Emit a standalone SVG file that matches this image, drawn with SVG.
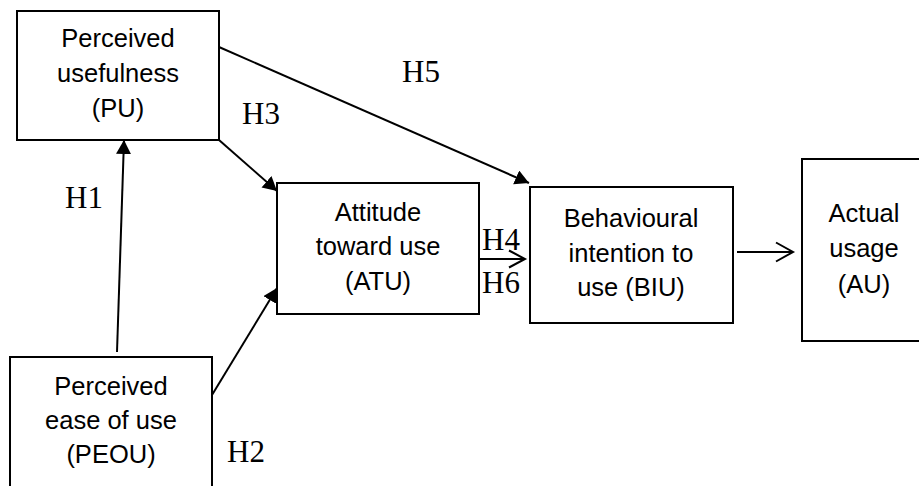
<svg xmlns="http://www.w3.org/2000/svg" width="919" height="486" viewBox="0 0 919 486">
  <style>
    .box { fill: #ffffff; stroke: #000000; stroke-width: 2; }
    .label { font-family: "Liberation Sans", Arial, sans-serif; font-size: 25.5px; fill: #000000; text-anchor: middle; }
    .hyp { font-family: "Liberation Serif", "Times New Roman", serif; font-size: 31px; fill: #000000; }
    .link { stroke: #000000; stroke-width: 2; fill: none; }
  </style>
  <defs>
    <marker id="solid" markerUnits="userSpaceOnUse" markerWidth="16" markerHeight="16" refX="14" refY="7.5" orient="auto">
      <path d="M0,0 L14,7.5 L0,15 Z" fill="#000000"/>
    </marker>
  </defs>
  <rect width="919" height="486" fill="#ffffff"/>

  <g id="node-pu">
    <rect class="box" x="17" y="11" width="202" height="129"/>
    <text class="label" x="118" y="47">Perceived</text>
    <text class="label" x="118" y="82">usefulness</text>
    <text class="label" x="118" y="117">(PU)</text>
  </g>

  <g id="node-peou">
    <rect class="box" x="10" y="357" width="202" height="140"/>
    <text class="label" x="111" y="395">Perceived</text>
    <text class="label" x="111" y="429">ease of use</text>
    <text class="label" x="111" y="463">(PEOU)</text>
  </g>

  <g id="node-atu">
    <rect class="box" x="277" y="183" width="202" height="131"/>
    <text class="label" x="378" y="221">Attitude</text>
    <text class="label" x="378" y="255">toward use</text>
    <text class="label" x="378" y="290">(ATU)</text>
  </g>

  <g id="node-biu">
    <rect class="box" x="530" y="187" width="203" height="136"/>
    <text class="label" x="631" y="227">Behavioural</text>
    <text class="label" x="631" y="262">intention to</text>
    <text class="label" x="631" y="296">use (BIU)</text>
  </g>

  <g id="node-au">
    <rect class="box" x="802" y="159" width="130" height="182"/>
    <text class="label" x="864" y="222">Actual</text>
    <text class="label" x="864" y="257">usage</text>
    <text class="label" x="864" y="293">(AU)</text>
  </g>

  <g id="connectors">
    <line class="link" x1="117" y1="352" x2="124" y2="140" marker-end="url(#solid)"/>
    <line class="link" x1="219" y1="140" x2="277" y2="191" marker-end="url(#solid)"/>
    <line class="link" x1="219" y1="47" x2="529" y2="183" marker-end="url(#solid)"/>
    <line class="link" x1="212" y1="395" x2="277" y2="288" marker-end="url(#solid)"/>
    <line class="link" x1="479" y1="259" x2="525" y2="259"/>
    <polyline class="link" points="509,250.5 525,259 509,267.5"/>
    <line class="link" x1="737" y1="252" x2="793" y2="252"/>
    <polyline class="link" points="776,242.5 793,252 776,261.5"/>
  </g>

  <g id="hypotheses">
    <text class="hyp" x="65" y="208">H1</text>
    <text class="hyp" x="227" y="462">H2</text>
    <text class="hyp" x="242" y="124">H3</text>
    <text class="hyp" x="482" y="250">H4</text>
    <text class="hyp" x="402" y="82">H5</text>
    <text class="hyp" x="482" y="293">H6</text>
  </g>
</svg>
